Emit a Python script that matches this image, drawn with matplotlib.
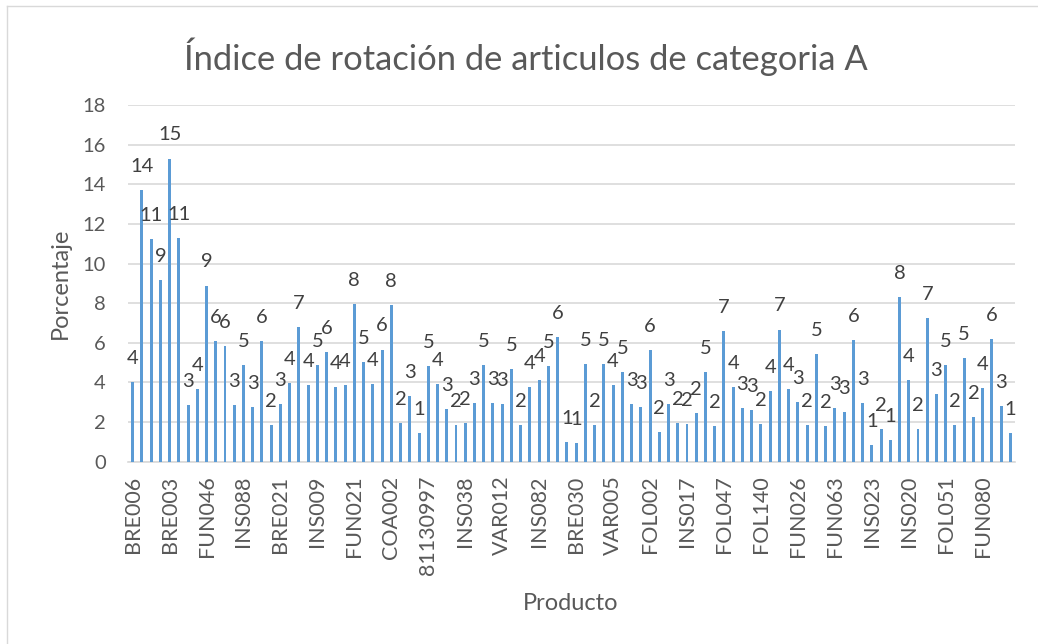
import matplotlib
matplotlib.use("Agg")
import matplotlib.pyplot as plt
from matplotlib.lines import Line2D
import numpy as np

values = [
    4.0, 13.7, 11.23, 9.16, 15.3, 11.31, 2.86, 3.65, 8.89, 6.1,
    5.85, 2.87, 4.9, 2.76, 6.1, 1.87, 2.92, 3.95, 6.79, 3.87,
    4.89, 5.55, 3.75, 3.85, 7.95, 5.03, 3.92, 5.66, 7.9, 1.97,
    3.33, 1.46, 4.82, 3.92, 2.66, 1.83, 1.93, 2.94, 4.86, 2.94,
    2.9, 4.67, 1.87, 3.78, 4.12, 4.84, 6.3, 0.97, 0.96, 4.92,
    1.83, 4.92, 3.87, 4.54, 2.89, 2.76, 5.63, 1.51, 2.91, 1.93,
    1.88, 2.47, 4.54, 1.82, 6.6, 3.76, 2.71, 2.6, 1.92, 3.58,
    6.67, 3.65, 3.0, 1.87, 5.43, 1.8, 2.72, 2.52, 6.13, 2.94,
    0.84, 1.66, 1.09, 8.32, 4.12, 1.66, 7.23, 3.43, 4.87, 1.85,
    5.24, 2.25, 3.73, 6.17, 2.81, 1.46,
]
tick_labels = [
    "BRE006", "BRE003", "FUN046", "INS088", "BRE021", "INS009",
    "FUN021", "COA002", "81130997", "INS038", "VAR012", "INS082",
    "BRE030", "VAR005", "FOL002", "INS017", "FOL047", "FOL140",
    "FUN026", "FUN063", "INS023", "INS020", "FOL051", "FUN080",
]
title = "Índice de rotación de articulos de categoria A"
xlabel = "Producto"
ylabel = "Porcentaje"

plt.rcParams['font.family'] = ['Lato', 'DejaVu Sans']

W, H = 1038, 644
fig = plt.figure(figsize=(W / 100, H / 100), dpi=100)
ax = fig.add_axes([128 / W, (H - 461.7) / H, 887 / W, 356.7 / H])

n = len(values)
x = np.arange(n)
ax.bar(x, values, width=0.32, color="#5B9BD5", zorder=3)
for xi, v in zip(x, values):
    ax.annotate(f"{int(v + 0.5)}", (xi, v), xytext=(0, 13),
                textcoords="offset points", ha="center", va="baseline",
                fontsize=14.5, color="#404040", zorder=4)

ax.set_xlim(-0.5, n - 0.5)
ax.set_ylim(0, 18)
ax.set_yticks(range(0, 19, 2))
ax.yaxis.grid(True, color="#D9D9D9", linewidth=1.2, zorder=0)
ax.set_xticks(x[::4])
ax.set_xticklabels(tick_labels, rotation=90, fontsize=15.5, color="#595959")
ax.tick_params(axis="y", labelsize=14.5, colors="#595959", length=0, pad=16)
ax.tick_params(axis="x", length=0, pad=10)
for s in ["top", "right", "left"]:
    ax.spines[s].set_visible(False)
ax.spines["bottom"].set_color("#D9D9D9")
ax.spines["bottom"].set_linewidth(1.2)

fig.text(526 / W, 1 - 70 / H, title, ha="center", va="baseline",
         fontsize=24.8, color="#595959")
fig.text(571 / W, 1 - 610 / H, xlabel, ha="center", va="baseline",
         fontsize=17, color="#595959")
fig.text(60 / W, 1 - 283 / H, ylabel, ha="center", va="center",
         rotation=90, fontsize=17, color="#595959")

# chart-area border (top and left edges visible)
fig.add_artist(Line2D([7 / W, 1], [1 - 6 / H, 1 - 6 / H],
                      transform=fig.transFigure, color="#D9D9D9", linewidth=1))
fig.add_artist(Line2D([7 / W, 7 / W], [0, 1 - 6 / H],
                      transform=fig.transFigure, color="#D9D9D9", linewidth=1))

fig.savefig("out.png", dpi=100, facecolor="white")
